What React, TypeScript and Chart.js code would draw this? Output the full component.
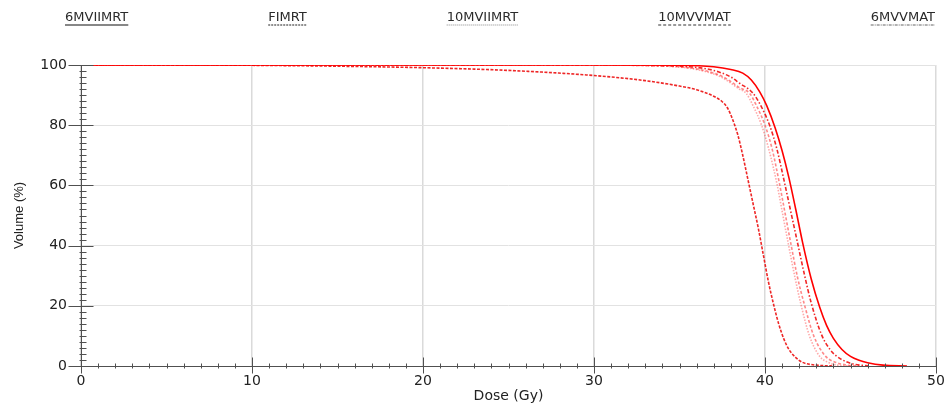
import { useEffect, useRef } from "react";
import { Chart, registerables } from "chart.js";

Chart.register(...registerables);

// ---- data ----
const seriesNames = ["6MVIIMRT", "FIMRT", "10MVIIMRT", "10MVVMAT", "6MVVMAT"];

const dose6MVIIMRT = [0, 30, 35, 37, 38, 38.7, 39.2, 39.7, 40.1, 40.6, 41.0, 41.4, 41.8, 42.2, 42.7, 43.2, 43.6, 44.0, 44.5, 45.0, 45.5, 46.0, 46.9, 48.3];
const vol6MVIIMRT = [100, 100, 99.9, 99.4, 98.5, 97.3, 95, 91, 86.5, 79, 71.5, 62.5, 52, 41, 29, 19.5, 13.5, 9.2, 5.5, 3.2, 1.9, 1.1, 0.3, 0];

const doseFIMRT = [0, 7, 10, 15, 20, 25, 30, 33, 35, 36, 37, 37.5, 37.8, 38.1, 38.4, 38.7, 39.0, 39.3, 39.6, 39.9, 40.2, 40.5, 40.8, 41.1, 41.4, 41.8, 42.2, 42.8, 43.5, 44];
const volFIMRT = [100, 100, 99.9, 99.6, 99.1, 98.2, 96.5, 94.8, 93, 91.8, 89.6, 87.8, 85.8, 82, 77, 70, 62, 54, 46, 37, 28, 20.5, 14, 9, 5.5, 2.8, 1.2, 0.4, 0.1, 0];

const dose10MVIIMRT = [0, 30, 33, 35, 36, 37, 37.5, 38, 38.5, 38.9, 39.3, 39.8, 40.2, 40.7, 41.0, 41.35, 41.75, 42.1, 42.6, 43.2, 43.7, 44.2, 45];
const vol10MVIIMRT = [100, 100, 99.8, 99.3, 98.5, 97, 95.8, 94, 92, 90.6, 86.5, 80, 72.5, 60.5, 51.5, 41, 29.5, 20.5, 10, 3.2, 1.2, 0.3, 0];

const dose10MVVMAT = [0, 30, 34, 36, 37, 38, 38.5, 39.3, 39.8, 40.3, 40.7, 41.1, 41.5, 41.9, 42.3, 42.7, 43.3, 43.8, 44.2, 44.8, 45.3, 45.7, 46.2];
const vol10MVVMAT = [100, 100, 99.8, 99.2, 98.2, 96, 94, 90.6, 86, 79.5, 72, 62, 51.5, 41, 30.5, 21, 10.5, 5.5, 3.2, 1.3, 0.5, 0.2, 0];

const dose6MVVMAT = [0, 30, 33, 35, 36, 37, 37.5, 38, 38.5, 39.1, 39.5, 40.0, 40.4, 40.85, 41.15, 41.5, 41.9, 42.3, 42.85, 43.55, 44.15, 44.8, 45.5];
const vol6MVVMAT = [100, 100, 99.8, 99.4, 98.7, 97.3, 96.2, 94.5, 92.5, 90.6, 86.5, 80, 72.5, 60.5, 51.5, 41, 29.5, 20.5, 10, 3.2, 1.2, 0.3, 0];

const doseTicks = [0, 10, 20, 30, 40, 50];
const volumeTicks = [0, 20, 40, 60, 80, 100];
const doseMinorStep = 1;
const volumeMinorStep = 2;

// ---- styles ----
const doses = [dose6MVIIMRT, doseFIMRT, dose10MVIIMRT, dose10MVVMAT, dose6MVVMAT];
const vols = [vol6MVIIMRT, volFIMRT, vol10MVIIMRT, vol10MVVMAT, vol6MVVMAT];
const lineColors = ["#ff0000", "rgba(235,0,0,0.85)", "rgba(255,40,40,0.4)", "rgba(240,0,0,0.85)", "rgba(255,40,40,0.55)"];
const lineDashes = [[], [3, 1.5], [1.5, 1.5], [4, 2, 1.5, 2], [3, 2]];
const lineWidths = [1.6, 1.6, 1.6, 1.6, 1.6];
const legendColors = ["#111111", "#222222", "#888888", "#333333", "#666666"];
const legendDashes = [[], [2, 1], [1, 1], [3, 2], [3, 1, 1, 1]];

const axesPlugin = {
  id: "dvhAxes",
  afterDatasetsDraw(chart: any) {
    const { ctx } = chart;
    const xs = chart.scales.x;
    const ys = chart.scales.y;
    const xMin = doseTicks[0];
    const xMax = doseTicks[doseTicks.length - 1];
    const yMin = volumeTicks[0];
    const yMax = volumeTicks[volumeTicks.length - 1];
    const x0 = Math.round(xs.getPixelForValue(xMin)) + 0.5;
    const x1 = xs.getPixelForValue(xMax);
    const y0 = Math.round(ys.getPixelForValue(yMin)) + 0.5;
    const y1 = ys.getPixelForValue(yMax);
    ctx.save();
    ctx.strokeStyle = "#505050";
    ctx.lineWidth = 1;
    ctx.beginPath();
    ctx.moveTo(x0, y1);
    ctx.lineTo(x0, y0);
    ctx.moveTo(x0, y0);
    ctx.lineTo(x1, y0);
    for (let v = yMin; v <= yMax + 1e-6; v += volumeMinorStep) {
      const py = Math.round(ys.getPixelForValue(v)) + 0.5;
      const major = volumeTicks.includes(v);
      if (major) {
        ctx.moveTo(x0 - 13, py);
        ctx.lineTo(x0 + 12, py);
      } else {
        ctx.moveTo(x0 - 2, py);
        ctx.lineTo(x0 + 5, py);
      }
    }
    for (let v = xMin; v <= xMax + 1e-6; v += doseMinorStep) {
      const px = Math.round(xs.getPixelForValue(v)) + 0.5;
      const major = doseTicks.includes(v);
      if (major) {
        ctx.moveTo(px, y0 - 9);
        ctx.lineTo(px, y0 + 7);
      } else {
        ctx.moveTo(px, y0 - 3);
        ctx.lineTo(px, y0 + 2);
      }
    }
    ctx.stroke();
    ctx.restore();
  },
};

const legendPlugin = {
  id: "topLegend",
  afterDraw(chart: any) {
    const { ctx } = chart;
    ctx.save();
    ctx.font = "13px 'DejaVu Sans'";
    const widths = seriesNames.map((n) => ctx.measureText(n).width);
    const left = 65;
    const right = 935;
    const total = widths.reduce((a, b) => a + b, 0);
    const gap = (right - left - total) / (seriesNames.length - 1);
    let cx = left;
    seriesNames.forEach((name, i) => {
      ctx.fillStyle = "#2a2a2a";
      ctx.textBaseline = "alphabetic";
      ctx.textAlign = "left";
      ctx.fillText(name, cx, 21);
      ctx.strokeStyle = legendColors[i];
      ctx.lineWidth = 1.2;
      ctx.setLineDash(legendDashes[i]);
      ctx.beginPath();
      ctx.moveTo(cx, 25);
      ctx.lineTo(cx + widths[i], 25);
      ctx.stroke();
      cx += widths[i] + gap;
    });
    ctx.restore();
  },
};

export default function App() {
  const canvasRef = useRef<HTMLCanvasElement | null>(null);

  useEffect(() => {
    if (!canvasRef.current) return;
    const datasets = seriesNames.map((name, i) => ({
      label: name,
      data: doses[i].map((d, k) => ({ x: d, y: vols[i][k] })),
      borderColor: lineColors[i],
      borderDash: lineDashes[i],
      borderWidth: lineWidths[i],
      pointRadius: 0,
      fill: false,
      cubicInterpolationMode: "monotone" as const,
    }));
    const chart = new Chart(canvasRef.current, {
      type: "line",
      data: { datasets },
      plugins: [axesPlugin, legendPlugin],
      options: {
        animation: false,
        responsive: true,
        maintainAspectRatio: false,
        layout: { padding: { top: 65, right: 8, bottom: 0, left: 0 } },
        plugins: { legend: { display: false }, tooltip: { enabled: false } },
        scales: {
          x: {
            type: "linear",
            min: doseTicks[0],
            max: doseTicks[doseTicks.length - 1],
            afterFit: (s: any) => {
              s.height = 39;
              s.paddingLeft = 0;
              s.paddingRight = 0;
            },
            afterBuildTicks: (s: any) => {
              s.ticks = doseTicks.map((v) => ({ value: v }));
            },
            ticks: {
              color: "#222",
              font: { family: "'DejaVu Sans'", size: 14 },
              padding: 7,
              maxRotation: 0,
            },
            grid: { color: "#dadada", lineWidth: 1.5, drawTicks: false },
            border: { display: false },
            title: {
              display: true,
              text: "Dose (Gy)",
              color: "#222",
              font: { family: "'DejaVu Sans'", size: 14 },
              padding: { top: 0, bottom: 0 },
            },
          },
          y: {
            type: "linear",
            min: volumeTicks[0],
            max: volumeTicks[volumeTicks.length - 1],
            afterFit: (s: any) => {
              s.width = 81;
              s.paddingTop = 0;
              s.paddingBottom = 0;
            },
            afterBuildTicks: (s: any) => {
              s.ticks = volumeTicks.map((v) => ({ value: v }));
            },
            ticks: {
              color: "#222",
              font: { family: "'DejaVu Sans'", size: 14 },
              padding: 14,
            },
            grid: { color: "#e2e2e2", lineWidth: 1, drawTicks: false },
            border: { display: false },
            title: {
              display: true,
              text: "Volume (%)",
              color: "#222",
              font: { family: "'Liberation Sans'", size: 13 },
              padding: { top: 12, bottom: 0 },
            },
          },
        },
      },
    });
    return () => chart.destroy();
  }, []);

  return (
    <div style={{ position: "absolute", left: 0, top: 0, width: 944, height: 405, background: "#fff" }}>
      <canvas ref={canvasRef} />
    </div>
  );
}
